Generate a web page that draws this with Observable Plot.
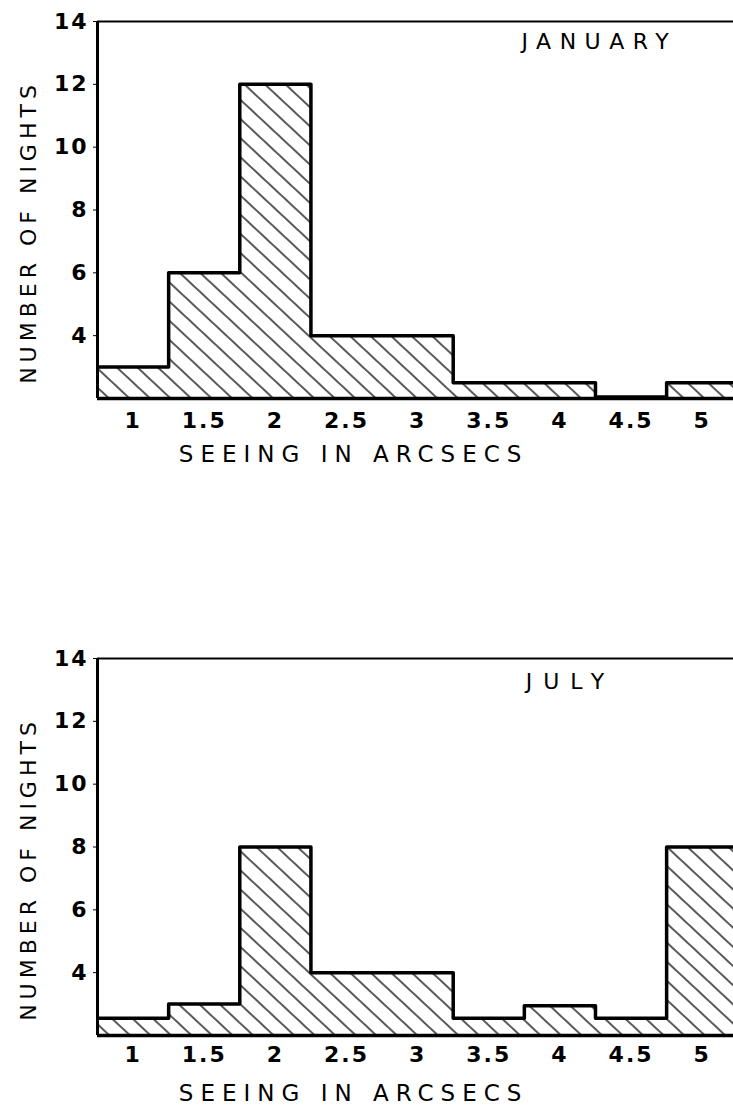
<!DOCTYPE html>
<html>
<head>
<meta charset="utf-8">
<script src="https://cdn.jsdelivr.net/npm/d3@7"></script>
<script src="https://cdn.jsdelivr.net/npm/@observablehq/plot@0.6"></script>
<style>
  body { margin: 0; background: #fff; overflow: hidden; }
  #chart svg { display: block; }
</style>
</head>
<body>
<div id="chart"></div>
<script>
// ---- data ----
const months = ["JANUARY", "JULY"];
const binEdges = [0.75, 1.25, 1.75, 2.25, 2.75, 3.25, 3.75, 4.25, 4.75, 5.25];
const janNights = [3.0, 6.0, 12.0, 4.0, 4.0, 2.5, 2.5, 2.05, 2.5];
const julNights = [2.55, 3.0, 8.0, 4.0, 4.0, 2.55, 2.95, 2.55, 8.0];
const xTicks = [1, 1.5, 2, 2.5, 3, 3.5, 4, 4.5, 5];
const xTickLabels = ["1", "1.5", "2", "2.5", "3", "3.5", "4", "4.5", "5"];
const yTicks = [4, 6, 8, 10, 12, 14];
const yDomain = [2, 14];
const xDomain = [0.75, 5.22];
const xTitle = "SEEING IN ARCSECS";
const yTitle = "NUMBER OF NIGHTS";

function panel(month, nights, id, cfg) {
  // step points: left edge of each bin, plus the closing right edge
  const pts = nights.map((v, i) => ({x: binEdges[i], v}));
  pts.push({x: binEdges[nights.length], v: nights[nights.length - 1]});

  const svg = Plot.plot({
    width: 733,
    height: cfg.height,
    marginLeft: 97,
    marginRight: 0,
    marginTop: cfg.marginTop,
    marginBottom: cfg.marginBottom,
    style: {fontFamily: "DejaVu Sans", fontSize: "22px", color: "black", background: "white"},
    x: {domain: xDomain, ticks: xTicks, tickFormat: d => xTickLabels[xTicks.indexOf(d)], tickSize: 0, tickPadding: cfg.xPad, label: null},
    y: {domain: yDomain, ticks: yTicks, tickSize: 4, tickPadding: 5, label: null},
    marks: [
      Plot.areaY(pts, {x: "x", y1: yDomain[0], y2: "v", curve: "step-after", fill: `url(#${id})`, clip: true}),
      Plot.line(pts, {x: "x", y: "v", curve: "step-after", stroke: "black", strokeWidth: 3.5, clip: true}),
      Plot.ruleY([yDomain[0]], {stroke: "black", strokeWidth: 3.5}),
      Plot.ruleY([yDomain[1]], {stroke: "black", strokeWidth: 2}),
      Plot.ruleX([xDomain[0]], {stroke: "black", strokeWidth: 3}),
      Plot.text([month], {x: cfg.monthX, y: cfg.monthY, text: d => d, textAnchor: "start", fontSize: 22, fill: "black"}),
      Plot.text([xTitle], {x: 2.55, frameAnchor: "bottom", lineAnchor: "middle", dy: cfg.titleDy, text: d => d, fontSize: 23, fill: "black"}),
      Plot.text([yTitle], {frameAnchor: "left", y: 7.3, dx: -69, rotate: -90, textAnchor: "middle", lineAnchor: "middle", text: d => d, fontSize: 22, fill: "black"})
    ]
  });

  // hatch pattern
  const ns = "http://www.w3.org/2000/svg";
  const defs = document.createElementNS(ns, "defs");
  const pat = document.createElementNS(ns, "pattern");
  pat.setAttribute("id", id);
  pat.setAttribute("patternUnits", "userSpaceOnUse");
  pat.setAttribute("width", 14);
  pat.setAttribute("height", 14);
  pat.setAttribute("patternTransform", "rotate(43)");
  const ln = document.createElementNS(ns, "line");
  ln.setAttribute("x1", -1); ln.setAttribute("x2", 15);
  ln.setAttribute("y1", 7); ln.setAttribute("y2", 7);
  ln.setAttribute("stroke", "black");
  ln.setAttribute("stroke-width", 1.3);
  pat.appendChild(ln);
  defs.appendChild(pat);
  svg.insertBefore(defs, svg.firstChild);

  const sel = d3.select(svg).selectAll("text");
  sel.style("font-weight", "bold").style("letter-spacing", "2px");
  sel.filter(function() { return this.textContent === xTitle; }).style("font-weight", "normal").style("letter-spacing", "7px");
  sel.filter(function() { return this.textContent === yTitle; }).style("font-weight", "normal").style("letter-spacing", "5px");
  sel.filter(function() { return this.textContent === month; }).style("font-weight", "normal").style("letter-spacing", cfg.monthSpacing);
  return svg;
}

const root = document.getElementById("chart");
root.appendChild(panel(months[0], janNights, "hatchJan",
  {height: 560, marginTop: 21, marginBottom: 162, xPad: 14, titleDy: 56, monthX: 3.73, monthY: 13.35, monthSpacing: "8.5px"}));
root.appendChild(panel(months[1], julNights, "hatchJul",
  {height: 548, marginTop: 98, marginBottom: 73, xPad: 11, titleDy: 58, monthX: 3.76, monthY: 13.25, monthSpacing: "11px"}));
</script>
</body>
</html>
